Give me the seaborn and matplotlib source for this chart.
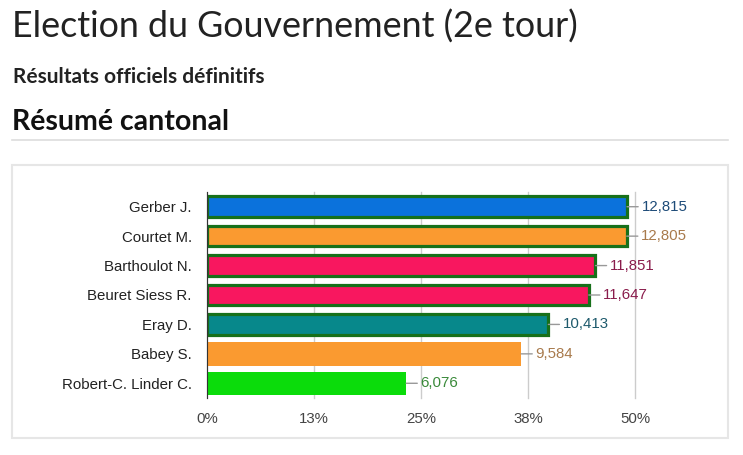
import numpy as np
import pandas as pd
import matplotlib
matplotlib.use("Agg")
import matplotlib.pyplot as plt
import seaborn as sns
from matplotlib.patches import Rectangle
from matplotlib.lines import Line2D

# Data
candidates = ["Gerber J.", "Courtet M.", "Barthoulot N.", "Beuret Siess R.",
              "Eray D.", "Babey S.", "Robert-C. Linder C."]
votes = [12815, 12805, 11851, 11647, 10413, 9584, 6076]
total_votes = 26115
bar_colors = ["#0b72dc", "#fa9a30", "#f8175f", "#f8175f", "#07888b", "#fa9a30", "#0bdc0b"]
label_colors = ["#1d4b78", "#a87a4c", "#8a1c4c", "#8a1c4c", "#1e5a6c", "#a87a4c", "#3a8a3a"]
outlined = [True, True, True, True, True, False, False]
tick_values = [0, 12.5, 25, 37.5, 50]
tick_labels = ["0%", "13%", "25%", "38%", "50%"]

title = "Election du Gouvernement (2e tour)"
subtitle = "Résultats officiels définitifs"
section = "Résumé cantonal"

df = pd.DataFrame({"candidat": candidates, "votes": votes})
df["pct"] = df["votes"] / total_votes * 100

W, H = 743, 455
fig = plt.figure(figsize=(W / 100, H / 100), dpi=100)
fig.patch.set_facecolor("white")

def fx(px):
    return px / W

def fy(py):
    return 1 - py / H

# Headings
fig.text(fx(12), fy(38), title, fontsize=25.8, fontfamily="Lato", fontweight="normal",
         color="#222222", va="baseline", ha="left")
fig.text(fx(13), fy(83), subtitle, fontsize=15, fontfamily="Lato", fontweight="bold",
         color="#222222", va="baseline", ha="left")
fig.text(fx(12), fy(130), section, fontsize=20.5, fontfamily="Lato", fontweight="bold",
         color="#111111", va="baseline", ha="left")
fig.add_artist(Line2D([fx(12), fx(728)], [fy(140), fy(140)], color="#dddddd", lw=1.2))
fig.add_artist(Rectangle((fx(12), fy(438)), fx(716), (438 - 165) / H, fill=False,
                         edgecolor="#e6e6e6", lw=1.5))

# Chart
ax = fig.add_axes([fx(207), fy(398), fx(635 - 207), (398 - 192) / H])
sns.barplot(data=df, x="pct", y="candidat", hue="candidat", palette=bar_colors,
            legend=False, orient="h", width=0.8, saturation=1, ax=ax, zorder=2)

ax.set_xlim(0, 50)
ax.set_xticks(tick_values)
ax.set_xticklabels(tick_labels)
ax.set_xlabel("")
ax.set_ylabel("")
ax.grid(axis="x", color="#cccccc", lw=1, zorder=0)
ax.set_axisbelow(True)
for gl in ax.xaxis.get_gridlines():
    gl.set_clip_on(False)
for side in ["top", "right", "bottom"]:
    ax.spines[side].set_visible(False)
ax.spines["left"].set_color("#333333")
ax.spines["left"].set_zorder(5)
ax.tick_params(length=0)
ax.tick_params(axis="y", pad=11, labelsize=10.8, labelcolor="#222222")
ax.tick_params(axis="x", pad=10, labelsize=10.8, labelcolor="#444444")
for lab in ax.get_xticklabels() + ax.get_yticklabels():
    lab.set_fontfamily("Liberation Sans")

# green outline drawn inside the bar edges
for patch, has_edge in zip(ax.patches, outlined):
    if has_edge:
        inset = 0.05
        patch.set_y(patch.get_y() + inset)
        patch.set_height(patch.get_height() - 2 * inset)
        patch.set_edgecolor("#17701a")
        patch.set_linewidth(2.3)

# value labels with small leader line
for i, (p, v, c) in enumerate(zip(df["pct"], votes, label_colors)):
    ax.annotate(f"{v:,}", xy=(p, i), xytext=(10.5, 0), textcoords="offset points",
                va="center", ha="left", color=c, fontsize=10.8,
                fontfamily="Liberation Sans", annotation_clip=False,
                arrowprops=dict(arrowstyle="-", color="#999999", lw=1,
                                shrinkA=0.5, shrinkB=0))

fig.savefig("out.png", dpi=100, facecolor="white")
